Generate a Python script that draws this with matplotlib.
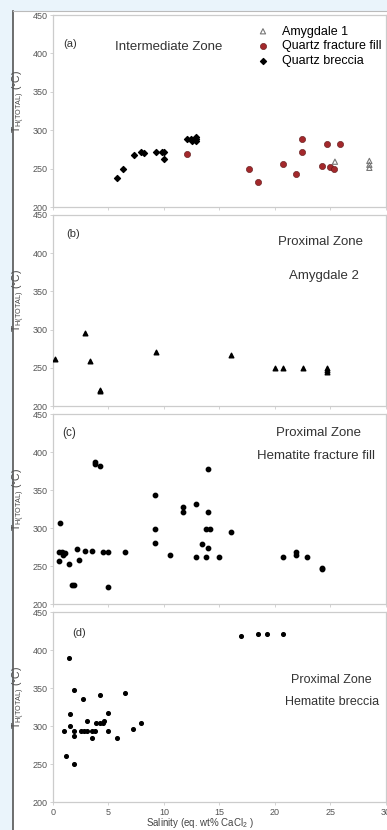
import matplotlib
matplotlib.use("Agg")
import matplotlib.pyplot as plt
from matplotlib.patches import Rectangle
from matplotlib.lines import Line2D

plt.rcParams['font.family'] = ['Liberation Sans', 'DejaVu Sans']

# (a) Intermediate zone
qb_sal = [5.8, 6.3, 7.3, 7.9, 8.2, 9.3, 9.8, 10.0, 10.0, 12.1, 12.4, 12.5, 12.9, 12.9, 12.9]
qb_th = [238, 249, 268, 272, 270, 271, 271, 271, 263, 289, 289, 286, 286, 291, 289]
qf_sal = [12.1, 17.7, 18.5, 20.7, 21.9, 22.4, 22.4, 24.2, 24.7, 25.0, 25.3, 25.9]
qf_th = [269, 249, 232, 256, 243, 289, 271, 253, 282, 252, 250, 282]
am1_sal = [25.4, 28.5, 28.5, 28.5]
am1_th = [259, 260, 255, 251]

# (b) Amygdale 2
am2_sal = [0.2, 2.9, 3.3, 4.2, 4.2, 9.3, 16.0, 20.0, 20.7, 22.5, 24.7, 24.7, 24.7]
am2_th = [262, 295, 259, 221, 219, 271, 267, 250, 250, 250, 250, 247, 244]

# (c) Hematite fracture fill
hf_sal = [0.5, 0.6, 0.5, 0.8, 0.9, 0.9, 1.1, 1.4, 1.7, 1.9, 2.2, 2.3, 2.9, 3.5,
          3.8, 3.8, 4.2, 4.5, 5.0, 5.0, 6.5, 9.2, 9.2, 9.2, 10.5, 11.7, 11.7,
          12.9, 12.9, 13.4, 13.8, 13.8, 14.0, 14.0, 14.0, 14.1, 15.0, 16.0,
          20.7, 21.9, 21.9, 22.9, 24.2, 24.2]
hf_th = [269, 306, 257, 269, 264, 267, 267, 252, 225, 225, 272, 258, 270, 270,
         387, 384, 381, 268, 268, 223, 268, 344, 299, 280, 264, 327, 321,
         331, 262, 279, 262, 299, 378, 321, 274, 299, 262, 295,
         262, 269, 265, 262, 248, 246]

# (d) Hematite breccia
hb_sal = [1.0, 1.2, 1.4, 1.5, 1.5, 1.9, 1.9, 1.9, 1.9, 2.7, 2.5, 2.8, 3.1, 3.5,
          3.8, 3.1, 3.5, 3.9, 4.2, 4.5, 4.6, 4.2, 5.0, 5.0, 5.8, 6.5, 7.2, 7.9,
          16.9, 18.5, 19.3, 20.7]
hb_th = [294, 261, 389, 316, 300, 347, 294, 287, 250, 336, 293, 293, 293, 293,
         293, 307, 284, 304, 304, 304, 306, 341, 293, 317, 284, 344, 296, 304,
         419, 421, 421, 421]

W, H = 387, 830
fig = plt.figure(figsize=(W / 100, H / 100), dpi=100)
fig.patch.set_facecolor('#eaf4fb')
fig.add_artist(Rectangle((13 / W, 0), 1 - 13 / W, 1 - 11 / H, transform=fig.transFigure,
                         facecolor='white', edgecolor='none', zorder=0))
fig.add_artist(Line2D([13 / W, 13 / W], [0, 1 - 11 / H], transform=fig.transFigure,
                      color='#555555', lw=1.2))
fig.add_artist(Line2D([13 / W, 1], [1 - 11 / H, 1 - 11 / H], transform=fig.transFigure,
                      color='#bbbbbb', lw=0.8))

panels = [(15, 207), (215, 406), (414, 604), (612, 802)]
axes = []
for i, (top, bot) in enumerate(panels):
    ax = fig.add_axes([53 / W, 1 - bot / H, (386 - 53) / W, (bot - top) / H])
    ax.set_xlim(0, 30)
    ax.set_ylim(200, 450)
    ax.set_xticks(range(0, 31, 5))
    ax.set_yticks(range(200, 451, 50))
    ax.tick_params(direction='out', length=2, width=0.6, color='#cccccc',
                   labelsize=6.5, labelcolor='#555555', pad=2)
    for s in ax.spines.values():
        s.set_color('#cccccc')
        s.set_linewidth(0.9)
    if i < 3:
        ax.set_xticklabels([])
    ax.text(-0.102, 0.55, r'T$_{\mathregular{H(TOTAL)}}$ (°C)', transform=ax.transAxes,
            rotation=90, ha='center', va='center', fontsize=7.5, color='#444444')
    axes.append(ax)

a, b, c, d = axes
tc = '#333333'

a.scatter(am1_sal, am1_th, marker='^', s=14, facecolors='none', edgecolors='#777777',
          linewidths=0.8, label='Amygdale 1', zorder=3)
a.scatter(qf_sal, qf_th, marker='o', s=20, color='#a3282b', edgecolors='#5a1515',
          linewidths=0.4, label='Quartz fracture fill', zorder=3)
a.scatter(qb_sal, qb_th, marker='D', s=9, color='black', label='Quartz breccia', zorder=3)
a.legend(loc='upper left', bbox_to_anchor=(0.608, 0.945), frameon=False, fontsize=9,
         handletextpad=0.9, labelspacing=0.22, borderpad=0, borderaxespad=0,
         handlelength=1.2)
a.text(0.051, 0.849, '(a)', transform=a.transAxes, fontsize=8, color=tc, ha='center', va='center')
a.text(0.347, 0.833, 'Intermediate Zone', transform=a.transAxes, fontsize=9.5, color=tc,
       ha='center', va='center')

b.scatter(am2_sal, am2_th, marker='^', s=11, color='black', zorder=3)
b.text(0.06, 0.90, '(b)', transform=b.transAxes, fontsize=8, color=tc, ha='center', va='center')
b.text(0.803, 0.859, 'Proximal Zone', transform=b.transAxes, fontsize=9.5, color=tc,
       ha='center', va='center')
b.text(0.815, 0.68, 'Amygdale 2', transform=b.transAxes, fontsize=9.5, color=tc,
       ha='center', va='center')

c.scatter(hf_sal, hf_th, marker='o', s=10, color='black', zorder=3)
c.text(0.048, 0.90, '(c)', transform=c.transAxes, fontsize=8.5, color=tc, ha='center', va='center')
c.text(0.796, 0.90, 'Proximal Zone', transform=c.transAxes, fontsize=9.5, color=tc,
       ha='center', va='center')
c.text(0.791, 0.779, 'Hematite fracture fill', transform=c.transAxes, fontsize=9.5, color=tc,
       ha='center', va='center')

d.scatter(hb_sal, hb_th, marker='o', s=7, color='black', zorder=3)
d.text(0.078, 0.889, '(d)', transform=d.transAxes, fontsize=8, color=tc, ha='center', va='center')
d.text(0.837, 0.642, 'Proximal Zone', transform=d.transAxes, fontsize=9, color=tc,
       ha='center', va='center')
d.text(0.838, 0.526, 'Hematite breccia', transform=d.transAxes, fontsize=9, color=tc,
       ha='center', va='center')

fig.text(200 / W, 1 - 823 / H, r'Salinity (eq. wt% CaCl$_{\mathregular{2}}$ )', ha='center',
         va='center', fontsize=7, color='#444444')

fig.savefig('out.png', dpi=100, facecolor=fig.get_facecolor())
